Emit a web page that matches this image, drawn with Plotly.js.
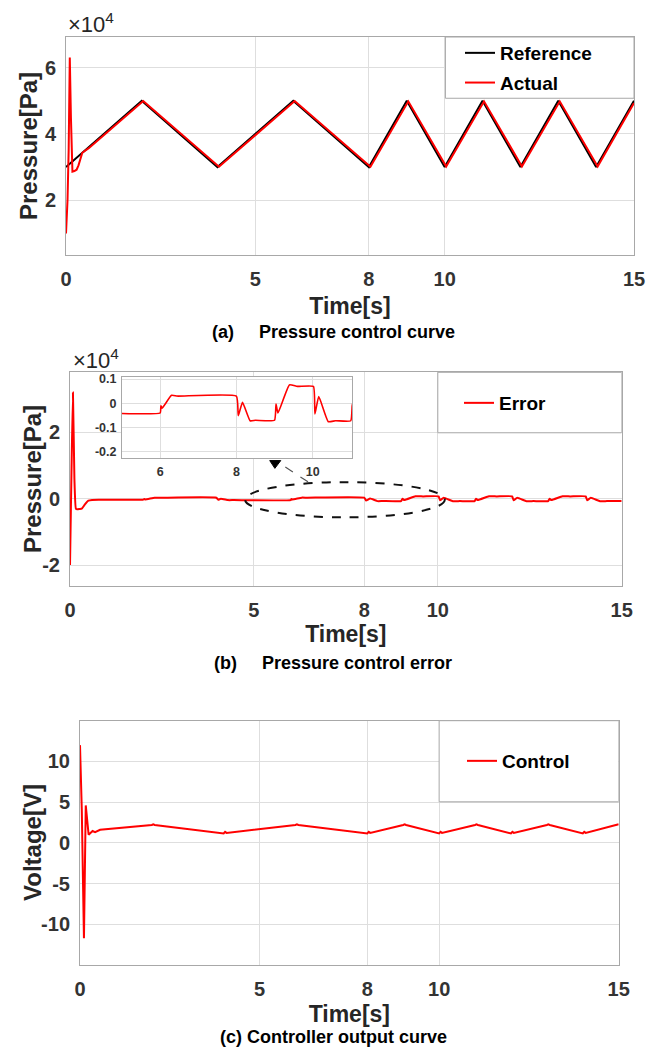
<!DOCTYPE html>
<html>
<head>
<meta charset="utf-8">
<script src="https://cdn.plot.ly/plotly-3.0.1.min.js"></script>
<style>html,body{margin:0;padding:0;background:#fff;}#chart{width:662px;height:1053px;}</style>
</head>
<body>
<div id="chart"></div>
<script>
// ---------- data ----------
const xTicks = [0, 5, 8, 10, 15];

// (a) pressure control curve
const refT = [0, 2, 4, 6, 8, 9, 10, 11, 12, 13, 14, 15];
const refP = [30000, 50000, 30000, 50000, 30000, 50000, 30000, 50000, 30000, 50000, 30000, 50000];
const actT = [0, 0.04, 0.07, 0.1, 0.13, 0.17, 0.22, 0.28, 0.33, 0.38, 0.43, 0.6, 2.04, 4.04, 6.04, 8.04, 9.04, 10.04, 11.04, 12.04, 13.04, 14.04, 15];
const actP = [10000, 20000, 35000, 63000, 45000, 28600, 28800, 29200, 30500, 32800, 34300, 35700, 49900, 30100, 49900, 30100, 49800, 30200, 49800, 30200, 49800, 30200, 49300];
const pTickVals = [20000, 40000, 60000];
const pTickText = ['2', '4', '6'];

// (b) pressure control error
const errT = [0, 0.04, 0.08, 0.12, 0.16, 0.2, 0.26, 0.32, 0.4, 0.5, 0.6, 0.8,
  1.98, 2.02, 2.05, 2.3, 2.45,
  3.98, 4.03, 4.1, 4.3, 4.45,
  6.0, 6.02, 6.05, 6.3, 6.45,
  8.0, 8.05, 8.16, 8.36, 8.5,
  9.0, 9.04, 9.09, 9.39, 9.6,
  10.02, 10.06, 10.16, 10.41, 10.6,
  11.0, 11.04, 11.09, 11.39, 11.6,
  12.02, 12.06, 12.16, 12.41, 12.6,
  13.0, 13.04, 13.09, 13.39, 13.6,
  14.02, 14.06, 14.16, 14.41, 14.6, 15.0];
const errV = [-20000, 8000, 32000, 6000, -3000, -3200, -3100, -3000, -1800, -600, -350, -300,
  -300, -100, -200, 320, 300,
  300, -300, 0, -420, -400,
  -400, -100, -200, 330, 300,
  300, -510, 40, -720, -700,
  -700, -30, -400, 760, 700,
  700, -440, 280, -760, -720,
  -720, -30, -400, 760, 700,
  700, -440, 280, -760, -720,
  -720, -30, -400, 760, 700,
  700, -440, 280, -760, -720, -700];
const eTickVals = [-20000, 0, 20000];
const eTickText = ['-2', '0', '2'];
const insetXTicks = [6, 8, 10];
const insetYVals = [-2000, -1000, 0, 1000];
const insetYText = ['-0.2', '-0.1', '0', '0.1'];

// (c) controller output curve
const ctT = [0, 0.05, 0.11, 0.16, 0.24, 0.3, 0.35, 0.42, 0.56,
  2.0, 2.04, 2.08, 4.0, 4.04, 4.08, 6.0, 6.04, 6.08, 8.0, 8.04, 8.08,
  9.0, 9.04, 9.08, 10.0, 10.04, 10.08, 11.0, 11.04, 11.08, 12.0, 12.04, 12.08,
  13.0, 13.04, 13.08, 14.0, 14.04, 14.08, 15.0];
const ctV = [12, 4, -11.7, 4.6, 1.0, 1.2, 1.45, 1.3, 1.6,
  2.2, 2.28, 2.2, 1.15, 1.35, 1.22, 2.2, 2.28, 2.2, 1.15, 1.35, 1.22,
  2.2, 2.28, 2.2, 1.15, 1.35, 1.22, 2.2, 2.28, 2.2, 1.15, 1.35, 1.22,
  2.2, 2.28, 2.2, 1.15, 1.35, 1.22, 2.28];
const vTickVals = [-10, -5, 0, 5, 10];
const vTickText = ['-10', '-5', '0', '5', '10'];

// ---------- layout helpers ----------
const W = 662, H = 1053;
const FONT = 'Liberation Sans, Arial, sans-serif';
const px = v => v / W;
const py = v => 1 - v / H;
const GRID = '#dedede', LINE = '#a8a8a8', TICKC = '#333333', TITLEC = '#262626';

function xAxis(l, r, anchor, standoff) {
  return {
    domain: [px(l), px(r)], anchor: anchor, range: [0, 15],
    tickvals: xTicks, showgrid: true, gridcolor: GRID, zeroline: false,
    showline: true, linecolor: LINE, mirror: true, ticks: '',
    tickfont: {family: FONT, size: 20, weight: 'bold', color: TICKC},
    ticklabelstandoff: 6, automargin: false,
    title: {text: 'Time[s]', standoff: standoff, font: {family: FONT, size: 23, weight: 'bold', color: TITLEC}}
  };
}
function yAxis(t, b, anchor, range, extra) {
  return Object.assign({
    domain: [py(b), py(t)], anchor: anchor, range: range,
    showgrid: true, gridcolor: GRID, zeroline: false,
    showline: true, linecolor: LINE, mirror: true, ticks: '',
    tickfont: {family: FONT, size: 20, weight: 'bold', color: TICKC},
    ticklabelstandoff: 5, automargin: false
  }, extra);
}
function yTitle(text, x, y) {
  return {xref: 'paper', yref: 'paper', x: px(x), y: py(y), xanchor: 'center', yanchor: 'middle',
    showarrow: false, textangle: -90, text: text,
    font: {family: FONT, size: 24, weight: 'bold', color: TITLEC}};
}

const traces = [
  {x: refT, y: refP, xaxis: 'x', yaxis: 'y', mode: 'lines', name: 'Reference', legend: 'legend', legendgroup: 'r',
   line: {color: '#000000', width: 2}},
  {x: actT, y: actP, xaxis: 'x', yaxis: 'y', mode: 'lines', name: 'Actual', legend: 'legend', legendgroup: 'a',
   line: {color: '#ff0000', width: 2}},
  {x: errT, y: errV, xaxis: 'x2', yaxis: 'y2', mode: 'lines', name: 'Error', legend: 'legend2',
   line: {color: '#ff0000', width: 2, shape: 'spline', smoothing: 0.4}},
  {x: ctT, y: ctV, xaxis: 'x3', yaxis: 'y3', mode: 'lines', name: 'Control', legend: 'legend3',
   line: {color: '#ff0000', width: 2}},
  {x: errT, y: errV, xaxis: 'x4', yaxis: 'y4', mode: 'lines', name: 'Error (zoom)', showlegend: false,
   line: {color: '#ff0000', width: 1.6, shape: 'spline', smoothing: 0.4}}
];

const legendBase = {
  xanchor: 'left', yanchor: 'top', bgcolor: 'rgba(0,0,0,0)', borderwidth: 0,
  font: {family: FONT, size: 19, weight: 'bold', color: '#000'}, itemwidth: 30,
  traceorder: 'grouped', tracegroupgap: 2
};

const boxStyle = {type: 'rect', layer: 'above', fillcolor: '#ffffff', line: {color: LINE, width: 1}};

const layout = {
  width: W, height: H, margin: {l: 0, r: 0, t: 0, b: 0},
  paper_bgcolor: '#ffffff', plot_bgcolor: '#ffffff',
  font: {family: FONT},
  showlegend: true,
  xaxis: xAxis(66, 634, 'y', 8),
  yaxis: yAxis(37, 255, 'x', [3500, 69200], {tickvals: pTickVals, ticktext: pTickText}),
  xaxis2: xAxis(70, 621.7, 'y2', 5),
  yaxis2: yAxis(372.3, 586, 'x2', [-26300, 38100], {tickvals: eTickVals, ticktext: eTickText}),
  xaxis3: xAxis(80, 618.7, 'y3', 6),
  yaxis3: yAxis(720.7, 965, 'x3', [-15, 15], {tickvals: vTickVals, ticktext: vTickText}),
  xaxis4: {
    domain: [px(122), px(352.3)], anchor: 'y4', range: [5, 11.04], tickvals: insetXTicks,
    showgrid: true, gridcolor: GRID, zeroline: false, showline: true, linecolor: LINE, mirror: true, ticks: '',
    tickfont: {family: FONT, size: 12.5, weight: 'bold', color: TICKC}, ticklabelstandoff: 2, automargin: false
  },
  yaxis4: {
    domain: [py(458.3), py(376.7)], anchor: 'x4', range: [-2270, 1100], tickvals: insetYVals, ticktext: insetYText,
    showgrid: true, gridcolor: GRID, zeroline: false, showline: true, linecolor: LINE, mirror: true, ticks: '',
    tickfont: {family: FONT, size: 12.5, weight: 'bold', color: TICKC}, ticklabelstandoff: 2, automargin: false
  },
  legend: Object.assign({}, legendBase, {x: px(460), y: py(34)}),
  legend2: Object.assign({}, legendBase, {x: px(459), y: py(384)}),
  legend3: Object.assign({}, legendBase, {x: px(462), y: py(742)}),
  shapes: [
    Object.assign({}, boxStyle, {xref: 'x', yref: 'y domain', x0: 10.02, x1: 15, y0: 0.719, y1: 1}),
    Object.assign({}, boxStyle, {xref: 'x2', yref: 'y2 domain', x0: 10, x1: 15, y0: 0.717, y1: 1}),
    Object.assign({}, boxStyle, {xref: 'x3', yref: 'y3 domain', x0: 10, x1: 15, y0: 0.668, y1: 1}),
    {type: 'circle', xref: 'x2', yref: 'y2', x0: 4.76, x1: 10.19, y0: -5600, y1: 5000, layer: 'above',
     line: {color: '#111111', width: 2, dash: 'dash'}},
    {type: 'line', xref: 'x2', yref: 'y2', x0: 6.47, y0: 5100, x1: 5.72, y1: 10500, layer: 'above',
     line: {color: '#555555', width: 1.2, dash: 'dash'}},
    {type: 'path', xref: 'x2', yref: 'y2', layer: 'above', fillcolor: '#000000', line: {color: '#000000', width: 1},
     path: 'M 5.43 11500 L 5.73 11500 L 5.57 9150 Z'}
  ],
  annotations: [
    yTitle('Pressure[Pa]', 28, 146),
    yTitle('Pressure[Pa]', 32, 479),
    yTitle('Voltage[V]', 32, 843),
    {xref: 'paper', yref: 'paper', x: px(66), y: py(23), xanchor: 'left', yanchor: 'middle', showarrow: false,
     text: '×10<sup>4</sup>', font: {family: FONT, size: 22, color: TITLEC}},
    {xref: 'paper', yref: 'paper', x: px(71), y: py(359), xanchor: 'left', yanchor: 'middle', showarrow: false,
     text: '×10<sup>4</sup>', font: {family: FONT, size: 22, color: TITLEC}},
    {xref: 'paper', yref: 'paper', x: px(333.5), y: py(331.5), xanchor: 'center', yanchor: 'middle', showarrow: false,
     text: '(a)\u00a0\u00a0\u00a0\u00a0 Pressure control curve', font: {family: FONT, size: 18, weight: 'bold', color: '#000'}},
    {xref: 'paper', yref: 'paper', x: px(333), y: py(663), xanchor: 'center', yanchor: 'middle', showarrow: false,
     text: '(b)\u00a0\u00a0\u00a0\u00a0 Pressure control error', font: {family: FONT, size: 18, weight: 'bold', color: '#000'}},
    {xref: 'paper', yref: 'paper', x: px(333), y: py(1037), xanchor: 'center', yanchor: 'middle', showarrow: false,
     text: '(c) Controller output curve', font: {family: FONT, size: 18, weight: 'bold', color: '#000'}}
  ]
};

Plotly.newPlot('chart', traces, layout, {staticPlot: true, displayModeBar: false});
</script>
</body>
</html>
